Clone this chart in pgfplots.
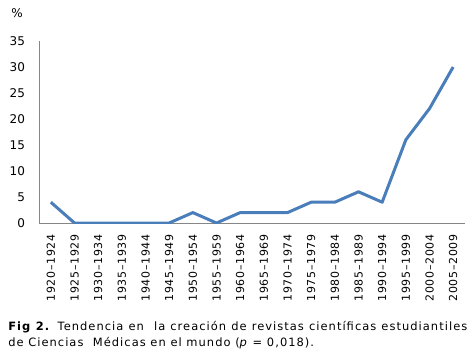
\documentclass[border=0pt]{standalone}
\usepackage{fontspec}
\setmainfont{DejaVu Sans}
\newfontfamily\tickfont[LetterSpace=6]{DejaVu Sans}
\newfontfamily\capfont[LetterSpace=9]{DejaVu Sans}
\newcommand\fd{\makebox[0.66em]{–}}
\usepackage{pgfplots}
\pgfplotsset{compat=1.18}
\definecolor{linecol}{HTML}{4A7EBB}
\definecolor{axcol}{HTML}{868686}
\begin{document}
\begin{tikzpicture}
\path[use as bounding box] (0,0) rectangle (356.25pt,-272.25pt);
\begin{axis}[
  at={(29.25pt,-167.25pt)}, anchor=south west,
  width=319.5pt, height=136.5pt, scale only axis,
  xmin=-0.5, xmax=17.5, ymin=0, ymax=35,
  axis x line*=bottom, axis y line*=left,
  axis line style={axcol, line width=0.75pt, -},
  ytick={0,5,...,35}, xtick={0,...,17},
  xticklabels={1920\fd1924,1925\fd1929,1930\fd1934,1935\fd1939,1940\fd1944,1945\fd1949,1950\fd1954,1955\fd1959,1960\fd1964,1965\fd1969,1970\fd1974,1975\fd1979,1980\fd1984,1985\fd1989,1990\fd1994,1995\fd1999,2000\fd2004,2005\fd2009},
  major tick length=0pt,
  /pgf/number format/assume math mode=true,
  yticklabel style={font=\fontsize{9}{10}\selectfont, xshift=-7pt},
  xticklabel style={rotate=90, anchor=east, font=\tickfont\fontsize{8.25}{9}\selectfont},
  xticklabel shift=5pt,
]
\addplot[linecol, line width=2.25pt, line join=round] coordinates {
(0,4) (1,0) (2,0) (3,0) (4,0) (5,0) (6,2) (7,0) (8,2) (9,2) (10,2) (11,4) (12,4) (13,6) (14,4) (15,16) (16,22) (17,30)};
\end{axis}
\node[anchor=center, font=\fontsize{9}{10}\selectfont, inner sep=0] at (12.75pt,-10pt) {\%};
\node[anchor=base west, inner sep=0, font=\capfont\fontsize{8.6}{12}\selectfont] at (6pt,-248.25pt) {\makebox[344.25pt][s]{\textbf{Fig 2.} Tendencia en \ la creación de revistas científicas estudiantiles}};
\node[anchor=base west, inner sep=0, font=\capfont\fontsize{8.6}{12}\selectfont] at (6pt,-260.25pt) {de Ciencias \ Médicas en el mundo (\textit{p} = 0,018).};
\end{tikzpicture}
\end{document}
